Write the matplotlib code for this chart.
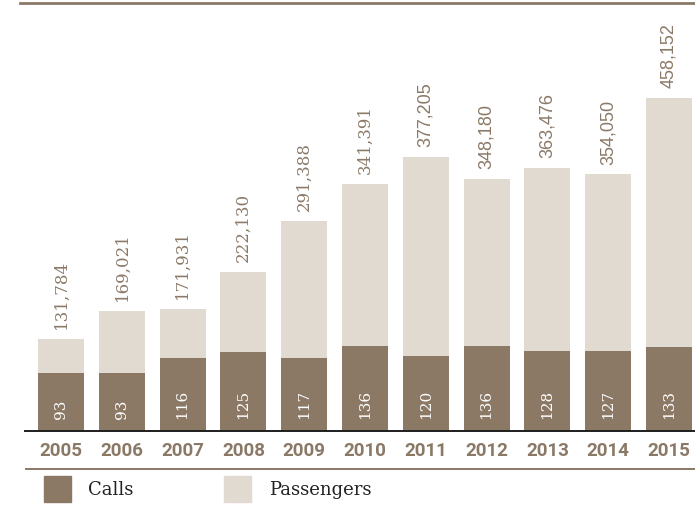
import matplotlib
matplotlib.use("Agg")
import matplotlib.pyplot as plt
from matplotlib.patches import Rectangle
from matplotlib.lines import Line2D

years = ["2005", "2006", "2007", "2008", "2009", "2010", "2011", "2012", "2013", "2014", "2015"]
calls = [93, 93, 116, 125, 117, 136, 120, 136, 128, 127, 133]
passengers = [131784, 169021, 171931, 222130, 291388, 341391, 377205, 348180, 363476, 354050, 458152]

CALLS_C = "#8b7966"
PASS_C = "#e0dad1"
BROWN = "#8b7967"

W, H = 695, 506
fig = plt.figure(figsize=(W / 100, H / 100), dpi=100)
fig.patch.set_facecolor("white")

def fx(px):
    return px / W

def fy(py):
    return 1 - py / H

ax = fig.add_axes([fx(25), fy(432), fx(670), 428 / H])
ax2 = ax.twinx()

x = list(range(len(years)))
bw = 0.757

ax.bar(x, passengers, width=bw, color=PASS_C, zorder=1)
ax2.bar(x, calls, width=bw, color=CALLS_C, zorder=2)

ax.set_xlim(-0.592, 10.428)
ax.set_ylim(6770, 586245)
ax2.set_ylim(0, 681.5)

for a in (ax, ax2):
    for s in a.spines.values():
        s.set_visible(False)
    a.set_yticks([])
    a.patch.set_visible(False)

ax.set_xticks(x)
ax.set_xticklabels(years, fontfamily="Roboto", fontweight="bold", fontsize=13.5, color=BROWN)
ax.tick_params(axis="x", length=0, pad=7.0)

for i, v in enumerate(passengers):
    if i < 6:
        fam, fs = "DejaVu Serif", 12
    else:
        fam, fs = "Liberation Sans", 13
    ax.annotate(f"{v:,}", (i, v), xytext=(0, 7.9), textcoords="offset points",
                rotation=90, ha="center", va="bottom", color=BROWN,
                fontfamily=fam, fontsize=fs, zorder=3)

for i, v in enumerate(calls):
    ax2.annotate(str(v), (i, 0), xytext=(0, 9.4), textcoords="offset points",
                 rotation=90, ha="center", va="bottom", color="white",
                 fontfamily="DejaVu Serif", fontsize=11, zorder=4)

# baseline
ax2.axhline(0, color="#1e1e1e", lw=1.4, zorder=5, clip_on=False)

# top rule and bottom rule
fig.add_artist(Line2D([fx(20), 1], [fy(3.5), fy(3.5)], color=BROWN, lw=2.0))
fig.add_artist(Line2D([fx(26), 1], [fy(469.5), fy(469.5)], color=BROWN, lw=1.4))

# legend
legend_items = [("Calls", CALLS_C, 44, 88), ("Passengers", PASS_C, 224, 269)]
for label, col, sx, tx in legend_items:
    fig.add_artist(Rectangle((fx(sx), fy(503)), fx(27), 26 / H, color=col,
                             transform=fig.transFigure))
    fig.text(fx(tx), fy(490), label, fontfamily="DejaVu Serif", fontsize=13,
             color="#222222", va="center", ha="left")

fig.savefig("out.png", dpi=100)
